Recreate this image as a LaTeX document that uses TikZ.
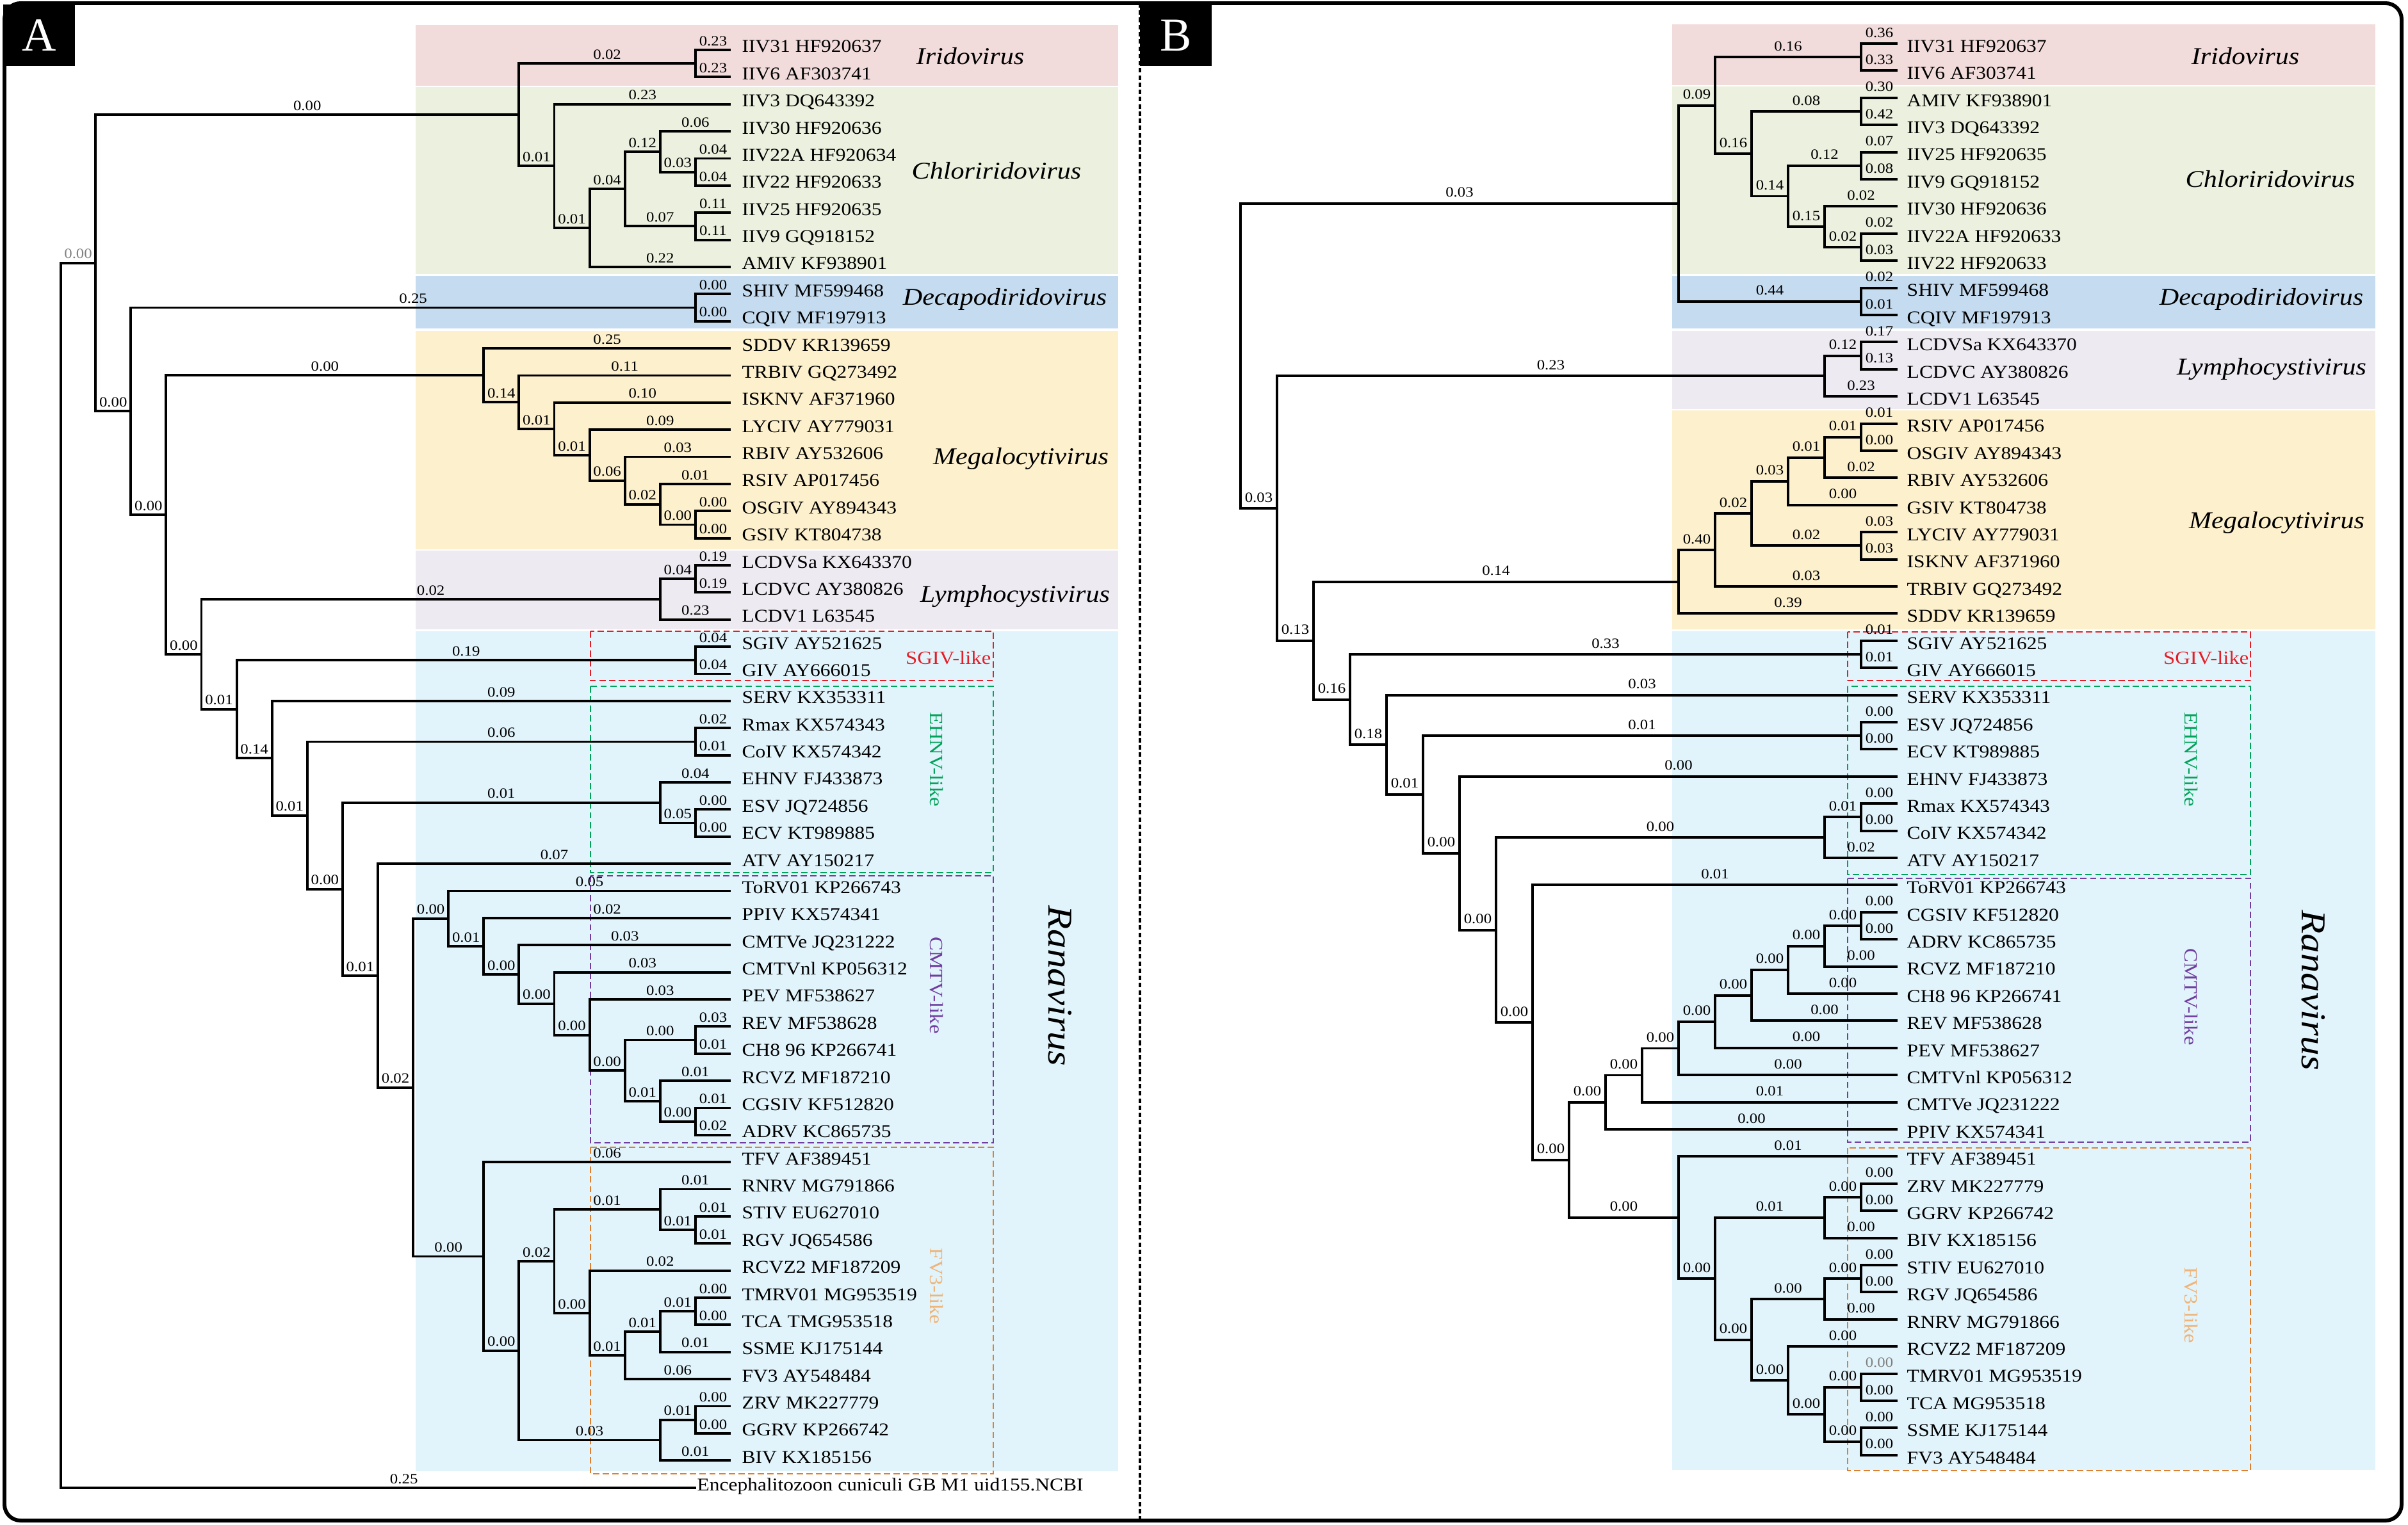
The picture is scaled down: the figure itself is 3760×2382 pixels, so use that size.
\documentclass[tikz,border=0pt]{standalone}
\usepackage{fontspec}
\setmainfont{Liberation Serif}
\newfontfamily\stretchfont{Liberation Serif}[FakeStretch=1.12]
\usetikzlibrary{calc}

\definecolor{iribg}{RGB}{242,220,219}
\definecolor{chlbg}{RGB}{235,241,222}
\definecolor{decbg}{RGB}{197,220,240}
\definecolor{megbg}{RGB}{253,240,205}
\definecolor{lymbg}{RGB}{238,234,242}
\definecolor{ranbg}{RGB}{226,244,251}
\definecolor{sgivred}{RGB}{226,30,40}
\definecolor{ehnvgreen}{RGB}{0,163,90}
\definecolor{cmtvpurple}{RGB}{112,62,160}
\definecolor{fvorange}{RGB}{222,128,48}
\definecolor{fvtan}{RGB}{238,180,120}
\definecolor{labgray}{RGB}{128,128,128}

\newcommand{\tipfont}{\stretchfont\fontsize{8}{9}\selectfont}
\newcommand{\blfont}{\stretchfont\fontsize{6.3}{7}\selectfont}
\newcommand{\genfont}{\stretchfont\itshape\fontsize{10.7}{12}\selectfont}
\newcommand{\ranfont}{\stretchfont\itshape\fontsize{15.5}{16}\selectfont}
\newcommand{\cllfont}{\stretchfont\fontsize{8.3}{9}\selectfont}
\newcommand{\panfont}{\fontsize{21}{21}\selectfont}

% clade: name, height, child 1, label 1, child 2, label 2
\newcommand{\cladeA}[6]{%
  \coordinate (mid) at ($(#3)!0.5!(#5)$);
  \pgfmathsetmacro\clx{1141-55.1*#2}
  \coordinate (#1) at (mid -| \clx,0);
  \draw[branch] (#1) |- node[blenA]{#4} (#3);
  \draw[branch] (#1) |- node[blenA]{#6} (#5);}
\newcommand{\cladeB}[6]{%
  \coordinate (mid) at ($(#3)!0.5!(#5)$);
  \pgfmathsetmacro\clx{2963-57*#2}
  \coordinate (#1) at (mid -| \clx,0);
  \draw[branch] (#1) |- node[blenB]{#4} (#3);
  \draw[branch] (#1) |- node[blenB]{#6} (#5);}

\tikzset{
  branch/.style={line width=1.1pt},
  blenA/.style={pos=0.75, above, inner sep=1.3pt, font=\blfont},
  blenB/.style={pos=0.75, above, inner sep=2.2pt, font=\blfont},
  tipA/.style={anchor=base west, inner sep=0pt, xshift=0.17cm, yshift=-0.04cm, font=\tipfont},
  tipB/.style={anchor=base west, inner sep=0pt, xshift=0.14cm, yshift=-0.133cm, font=\tipfont},
  genus/.style={font=\genfont, inner sep=0pt},
  clbox/.style={line width=0.75pt, dash pattern=on 2.8pt off 1.5pt},
  cllab/.style={font=\cllfont, inner sep=0pt},
  panel/.style={fill=black, text=white, font=\panfont, minimum width=1.11cm, minimum height=0.95cm, inner sep=0pt}
}

\begin{document}
\begin{tikzpicture}[x=0.01cm, y=-0.01cm]
\useasboundingbox (0,0) rectangle (3760,2382);

% Backgrounds - A
\fill[iribg] (649,39) rectangle (1746,134);
\fill[chlbg] (649,136) rectangle (1746,428);
\fill[decbg] (649,431) rectangle (1746,513);
\fill[megbg] (649,517) rectangle (1746,858);
\fill[lymbg] (649,860) rectangle (1746,983);
\fill[ranbg] (649,986) rectangle (1746,2298);
% Backgrounds - B
\fill[iribg] (2611,38) rectangle (3709,133);
\fill[chlbg] (2611,135) rectangle (3709,428);
\fill[decbg] (2611,431) rectangle (3709,513);
\fill[lymbg] (2611,517) rectangle (3709,639);
\fill[megbg] (2611,641) rectangle (3709,983);
\fill[ranbg] (2611,986) rectangle (3709,2296);

% Dashed groups
\draw[clbox, sgivred] (922,986) rectangle (1551,1063);
\draw[clbox, ehnvgreen] (922,1072) rectangle (1551,1363);
\draw[clbox, cmtvpurple] (922,1368) rectangle (1551,1785);
\draw[clbox, fvorange] (922,1792) rectangle (1551,2302);
\draw[clbox, sgivred] (2885,987) rectangle (3514,1063);
\draw[clbox, ehnvgreen] (2885,1072) rectangle (3514,1366);
\draw[clbox, cmtvpurple] (2885,1372) rectangle (3514,1784);
\draw[clbox, fvorange] (2885,1793) rectangle (3514,2297);

% Frame and divider
\draw[line width=1.7pt, rounded corners=0.25cm] (7,5) rectangle (3750,2375);
\draw[line width=1.4pt, dash pattern=on 2pt off 1.2pt] (1780,5) -- (1780,2375);
\node[panel] (pA) at (61,55) {A};
\node[panel] (pB) at (1836,55) {B};

% Tips - A
\foreach \t [count=\i] in {IIV31 HF920637, IIV6 AF303741, IIV3 DQ643392, IIV30 HF920636,
  IIV22A HF920634, IIV22 HF920633, IIV25 HF920635, IIV9 GQ918152, AMIV KF938901,
  SHIV MF599468, CQIV MF197913, SDDV KR139659, TRBIV GQ273492, ISKNV AF371960,
  LYCIV AY779031, RBIV AY532606, RSIV AP017456, OSGIV AY894343, GSIV KT804738,
  LCDVSa KX643370, LCDVC AY380826, LCDV1 L63545, SGIV AY521625, GIV AY666015,
  SERV KX353311, Rmax KX574343, CoIV KX574342, EHNV FJ433873, ESV JQ724856,
  ECV KT989885, ATV AY150217, ToRV01 KP266743, PPIV KX574341, CMTVe JQ231222,
  CMTVnl KP056312, PEV MF538627, REV MF538628, CH8 96 KP266741, RCVZ MF187210,
  CGSIV KF512820, ADRV KC865735, TFV AF389451, RNRV MG791866, STIV EU627010,
  RGV JQ654586, RCVZ2 MF187209, TMRV01 MG953519, TCA TMG953518, SSME KJ175144,
  FV3 AY548484, ZRV MK227779, GGRV KP266742, BIV KX185156}
{
  \coordinate (a\i) at (1141, {78+(\i-1)*42.37});
  \node[tipA] (la\i) at (a\i) {\t};
}

% Tips - B
\foreach \t [count=\i] in {IIV31 HF920637, IIV6 AF303741, AMIV KF938901, IIV3 DQ643392,
  IIV25 HF920635, IIV9 GQ918152, IIV30 HF920636, IIV22A HF920633, IIV22 HF920633,
  SHIV MF599468, CQIV MF197913, LCDVSa KX643370, LCDVC AY380826, LCDV1 L63545,
  RSIV AP017456, OSGIV AY894343, RBIV AY532606, GSIV KT804738, LYCIV AY779031,
  ISKNV AF371960, TRBIV GQ273492, SDDV KR139659, SGIV AY521625, GIV AY666015,
  SERV KX353311, ESV JQ724856, ECV KT989885, EHNV FJ433873, Rmax KX574343,
  CoIV KX574342, ATV AY150217, ToRV01 KP266743, CGSIV KF512820, ADRV KC865735,
  RCVZ MF187210, CH8 96 KP266741, REV MF538628, PEV MF538627, CMTVnl KP056312,
  CMTVe JQ231222, PPIV KX574341, TFV AF389451, ZRV MK227779, GGRV KP266742,
  BIV KX185156, STIV EU627010, RGV JQ654586, RNRV MG791866, RCVZ2 MF187209,
  TMRV01 MG953519, TCA MG953518, SSME KJ175144, FV3 AY548484}
{
  \coordinate (b\i) at (2963, {68+(\i-1)*42.4});
  \node[tipB] (lb\i) at (b\i) {\t};
}

% Tree A
\cladeA{aIri}{1}{a1}{0.23}{a2}{0.23}
\cladeA{aC5}{1}{a5}{0.04}{a6}{0.04}
\cladeA{aC4}{2}{a4}{0.06}{aC5}{0.03}
\cladeA{aC6}{1}{a7}{0.11}{a8}{0.11}
\cladeA{aC3}{3}{aC4}{0.12}{aC6}{0.07}
\cladeA{aC2}{4}{aC3}{0.04}{a9}{0.22}
\cladeA{aC1}{5}{a3}{0.23}{aC2}{0.01}
\cladeA{aIC}{6}{aIri}{0.02}{aC1}{0.01}
\cladeA{aDec}{1}{a10}{0.00}{a11}{0.00}
\cladeA{aM7}{1}{a18}{0.00}{a19}{0.00}
\cladeA{aM6}{2}{a17}{0.01}{aM7}{0.00}
\cladeA{aM5}{3}{a16}{0.03}{aM6}{0.02}
\cladeA{aM4}{4}{a15}{0.09}{aM5}{0.06}
\cladeA{aM3}{5}{a14}{0.10}{aM4}{0.01}
\cladeA{aM2}{6}{a13}{0.11}{aM3}{0.01}
\cladeA{aM1}{7}{a12}{0.25}{aM2}{0.14}
\cladeA{aL2}{1}{a20}{0.19}{a21}{0.19}
\cladeA{aL1}{2}{aL2}{0.04}{a22}{0.23}
\cladeA{aSG}{1}{a23}{0.04}{a24}{0.04}
\cladeA{aE1}{1}{a26}{0.02}{a27}{0.01}
\cladeA{aE3}{1}{a29}{0.00}{a30}{0.00}
\cladeA{aE2}{2}{a28}{0.04}{aE3}{0.05}
\cladeA{aK8}{1}{a37}{0.03}{a38}{0.01}
\cladeA{aK10}{1}{a40}{0.01}{a41}{0.02}
\cladeA{aK9}{2}{a39}{0.01}{aK10}{0.00}
\cladeA{aK7}{3}{aK8}{0.00}{aK9}{0.01}
\cladeA{aK6}{4}{a36}{0.03}{aK7}{0.00}
\cladeA{aK5}{5}{a35}{0.03}{aK6}{0.00}
\cladeA{aK4}{6}{a34}{0.03}{aK5}{0.00}
\cladeA{aK3}{7}{a33}{0.02}{aK4}{0.00}
\cladeA{aK2}{8}{a32}{0.05}{aK3}{0.01}
\cladeA{aF8}{1}{a47}{0.00}{a48}{0.00}
\cladeA{aF7}{2}{aF8}{0.01}{a49}{0.01}
\cladeA{aF6}{3}{aF7}{0.01}{a50}{0.06}
\cladeA{aF5}{4}{a46}{0.02}{aF6}{0.01}
\cladeA{aF4b}{1}{a44}{0.01}{a45}{0.01}
\cladeA{aF4}{2}{a43}{0.01}{aF4b}{0.01}
\cladeA{aF3}{5}{aF4}{0.01}{aF5}{0.00}
\cladeA{aF10}{1}{a51}{0.00}{a52}{0.00}
\cladeA{aF9}{2}{aF10}{0.01}{a53}{0.01}
\cladeA{aF2}{6}{aF3}{0.02}{aF9}{0.03}
\cladeA{aF1}{7}{a42}{0.06}{aF2}{0.00}
\cladeA{aN10}{9}{aK2}{0.00}{aF1}{0.00}
\cladeA{aN9}{10}{a31}{0.07}{aN10}{0.02}
\cladeA{aN8}{11}{aE2}{0.01}{aN9}{0.01}
\cladeA{aN7}{12}{aE1}{0.06}{aN8}{0.00}
\cladeA{aN6}{13}{a25}{0.09}{aN7}{0.01}
\cladeA{aN5}{14}{aSG}{0.19}{aN6}{0.14}
\cladeA{aN4}{15}{aL1}{0.02}{aN5}{0.01}
\cladeA{aN3}{16}{aM1}{0.00}{aN4}{0.00}
\cladeA{aN2}{17}{aDec}{0.25}{aN3}{0.00}
\cladeA{aN1}{18}{aIC}{0.00}{aN2}{0.00}
% root and outgroup
\coordinate (a54) at (1087, 2324);
\coordinate (mid) at ($(aN1)!0.5!(a54)$);
\coordinate (aR) at (mid -| 95,0);
\draw[branch] (aR) |- node[blenA, text=labgray]{0.00} (aN1);
\draw[branch] (aR) |- node[blenA, pos=0.77]{0.25} (a54);
\node[tipA, xshift=-0.16cm] (la54) at (a54) {Encephalitozoon cuniculi GB M1 uid155.NCBI};

% Tree B
\cladeB{bIri}{1}{b1}{0.36}{b2}{0.33}
\cladeB{bC1}{1}{b3}{0.30}{b4}{0.42}
\cladeB{bC3}{1}{b5}{0.07}{b6}{0.08}
\cladeB{bC5}{1}{b8}{0.02}{b9}{0.03}
\cladeB{bC4}{2}{b7}{0.02}{bC5}{0.02}
\cladeB{bC2}{3}{bC3}{0.12}{bC4}{0.15}
\cladeB{bCh}{4}{bC1}{0.08}{bC2}{0.14}
\cladeB{bIC}{5}{bIri}{0.16}{bCh}{0.16}
\cladeB{bDec}{1}{b10}{0.02}{b11}{0.01}
\cladeB{bT}{6}{bIC}{0.09}{bDec}{0.44}
\cladeB{bLy2}{1}{b12}{0.17}{b13}{0.13}
\cladeB{bLy}{2}{bLy2}{0.12}{b14}{0.23}
\cladeB{bM5}{1}{b15}{0.01}{b16}{0.00}
\cladeB{bM4}{2}{bM5}{0.01}{b17}{0.02}
\cladeB{bM3}{3}{bM4}{0.01}{b18}{0.00}
\cladeB{bM6}{1}{b19}{0.03}{b20}{0.03}
\cladeB{bM2}{4}{bM3}{0.03}{bM6}{0.02}
\cladeB{bM1}{5}{bM2}{0.02}{b21}{0.03}
\cladeB{bM}{6}{bM1}{0.40}{b22}{0.39}
\cladeB{bSG}{1}{b23}{0.01}{b24}{0.01}
\cladeB{bE1}{1}{b26}{0.00}{b27}{0.00}
\cladeB{bE3}{1}{b29}{0.00}{b30}{0.00}
\cladeB{bE2}{2}{bE3}{0.01}{b31}{0.02}
\cladeB{bK8}{1}{b33}{0.00}{b34}{0.00}
\cladeB{bK7}{2}{bK8}{0.00}{b35}{0.00}
\cladeB{bK6}{3}{bK7}{0.00}{b36}{0.00}
\cladeB{bK5}{4}{bK6}{0.00}{b37}{0.00}
\cladeB{bK4}{5}{bK5}{0.00}{b38}{0.00}
\cladeB{bK3}{6}{bK4}{0.00}{b39}{0.00}
\cladeB{bK2}{7}{bK3}{0.00}{b40}{0.01}
\cladeB{bK1}{8}{bK2}{0.00}{b41}{0.00}
\cladeB{bF4}{1}{b43}{0.00}{b44}{0.00}
\cladeB{bF3}{2}{bF4}{0.00}{b45}{0.00}
\cladeB{bF7}{1}{b46}{0.00}{b47}{0.00}
\cladeB{bF6}{2}{bF7}{0.00}{b48}{0.00}
\cladeB{bF10}{1}{b50}{\textcolor{labgray}{0.00}}{b51}{0.00}
\cladeB{bF11}{1}{b52}{0.00}{b53}{0.00}
\cladeB{bF9}{2}{bF10}{0.00}{bF11}{0.00}
\cladeB{bF8}{3}{b49}{0.00}{bF9}{0.00}
\cladeB{bF5}{4}{bF6}{0.00}{bF8}{0.00}
\cladeB{bF2}{5}{bF3}{0.01}{bF5}{0.00}
\cladeB{bF1}{6}{b42}{0.01}{bF2}{0.00}
\cladeB{bL9}{9}{bK1}{0.00}{bF1}{0.00}
\cladeB{bL8}{10}{b32}{0.01}{bL9}{0.00}
\cladeB{bL7}{11}{bE2}{0.00}{bL8}{0.00}
\cladeB{bL6}{12}{b28}{0.00}{bL7}{0.00}
\cladeB{bL5}{13}{bE1}{0.01}{bL6}{0.00}
\cladeB{bL4}{14}{b25}{0.03}{bL5}{0.01}
\cladeB{bL3}{15}{bSG}{0.33}{bL4}{0.18}
\cladeB{bL2}{16}{bM}{0.14}{bL3}{0.16}
\cladeB{bL1}{17}{bLy}{0.23}{bL2}{0.13}
\cladeB{bR}{18}{bT}{0.03}{bL1}{0.03}

% Genus labels
\node[genus] (iriA) at (1515,88) {Iridovirus};
\node[genus] (chlA) at (1556,267) {Chloriridovirus};
\node[genus] (decA) at (1569,467) {Decapodiridovirus};
\node[genus] (megA) at (1594,717) {Megalocytivirus};
\node[genus] (lymA) at (1585,932) {Lymphocystivirus};
\node[genus] (iriB) at (3506,88) {Iridovirus};
\node[genus] (chlB) at (3545,280) {Chloriridovirus};
\node[genus] (decB) at (3531,467) {Decapodiridovirus};
\node[genus] (lymB) at (3547,577) {Lymphocystivirus};
\node[genus] (megB) at (3555,817) {Megalocytivirus};
\node[font=\ranfont, rotate=-90] (ranA) at (1655,1540) {Ranavirus};
\node[font=\ranfont, rotate=-90] (ranB) at (3612,1547) {Ranavirus};

% Group labels
\node[cllab, text=sgivred, anchor=east] (sgA) at (1548,1028) {SGIV-like};
\node[cllab, text=ehnvgreen, rotate=-90] (ehA) at (1462,1186) {EHNV-like};
\node[cllab, text=cmtvpurple, rotate=-90] (cmA) at (1462,1539) {CMTV-like};
\node[cllab, text=fvtan, rotate=-90] (fvA) at (1462,2009) {FV3-like};
\node[cllab, text=sgivred, anchor=east] (sgB) at (3512,1028) {SGIV-like};
\node[cllab, text=ehnvgreen, rotate=-90] (ehB) at (3421,1186) {EHNV-like};
\node[cllab, text=cmtvpurple, rotate=-90] (cmB) at (3421,1557) {CMTV-like};
\node[cllab, text=fvtan, rotate=-90] (fvB) at (3421,2039) {FV3-like};
\end{tikzpicture}
\end{document}
